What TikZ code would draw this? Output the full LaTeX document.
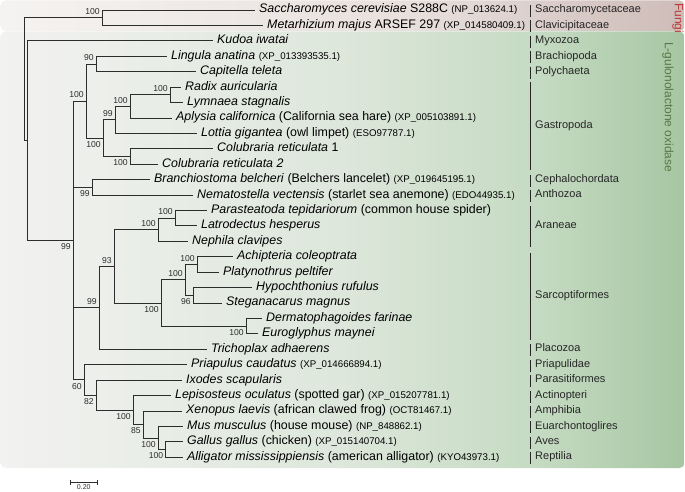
\documentclass[tikz,border=0pt]{standalone}
\usepackage{fontspec}
\setmainfont{Liberation Sans}
\usepackage{tikz}
\usetikzlibrary{calc}
\usepackage{xcolor}
\definecolor{treeline}{RGB}{45,45,45}
\definecolor{fungiL}{RGB}{245,243,241}
\definecolor{fungiM}{RGB}{232,224,221}
\definecolor{fungiR}{RGB}{206,188,184}
\definecolor{guloL}{RGB}{242,242,241}
\definecolor{guloM}{RGB}{221,231,219}
\definecolor{guloN}{RGB}{198,219,195}
\definecolor{guloR}{RGB}{166,198,162}
\definecolor{fungitext}{RGB}{186,56,56}
\definecolor{gulotext}{RGB}{88,120,72}
\pgfdeclarehorizontalshading{fungishade}{100bp}{color(0bp)=(fungiL); color(25bp)=(fungiL); color(55bp)=(fungiM); color(75bp)=(fungiR); color(100bp)=(fungiR)}
\pgfdeclarehorizontalshading{guloshade}{100bp}{color(0bp)=(guloL); color(25bp)=(guloL); color(50bp)=(guloM); color(64bp)=(guloN); color(75bp)=(guloR); color(100bp)=(guloR)}
\newcommand{\accno}[1]{{\fontsize{9.7}{11}\selectfont(#1)}}

\begin{document}
\begin{tikzpicture}[x=1pt,y=-1pt,
  branch/.style={draw=treeline,line width=0.8pt},
  taxon/.style={anchor=west,inner xsep=4pt,inner ysep=0pt,text height=9pt,text depth=3pt,font=\fontsize{12.4}{14}\selectfont},
  boot/.style={inner xsep=2.2pt,inner ysep=3pt,font=\fontsize{8.6}{10}\selectfont,text=treeline},
  bootup/.style={boot,anchor=south east},
  bootdn/.style={boot,anchor=north east},
  grp/.style={anchor=west,inner xsep=5pt,inner ysep=0pt,text height=8pt,text depth=2.5pt,font=\fontsize{11}{13}\selectfont,text=black!85},
  grpbar/.style={draw=black!85,line width=0.8pt},
  sidelbl/.style={rotate=-90,anchor=west,inner sep=0pt,font=\fontsize{12}{14}\selectfont}]
\useasboundingbox (0,0) rectangle (685,492);
% background boxes
\shade[shading=fungishade,rounded corners=5pt] (0.5,0.5) rectangle (684.5,31);
\shade[shading=guloshade,rounded corners=5pt] (0.5,31.5) rectangle (684.5,468);
\node[sidelbl,text=fungitext] (fungilbl) at (678,3) {Fungi};
\node[sidelbl,text=gulotext] (gulolbl) at (668,42) {L-gulonolactone oxidase};

% taxa
\node[taxon] (sacch) at (255,10) {\textit{Saccharomyces cerevisiae} S288C \accno{NP\_013624.1}};
\node[taxon] (metar) at (263,25.42) {\textit{Metarhizium majus} ARSEF 297 \accno{XP\_014580409.1}};
\node[taxon] (kudoa) at (213,40.84) {\textit{Kudoa iwatai}};
\node[taxon] (lingula) at (167,56.26) {\textit{Lingula anatina} \accno{XP\_013393535.1}};
\node[taxon] (capitella) at (196,71.68) {\textit{Capitella teleta}};
\node[taxon] (radix) at (181,87.1) {\textit{Radix auricularia}};
\node[taxon] (lymnaea) at (183,102.52) {\textit{Lymnaea stagnalis}};
\node[taxon] (aplysia) at (172,117.94) {\textit{Aplysia californica} (California sea hare) \accno{XP\_005103891.1}};
\node[taxon] (lottia) at (197,133.36) {\textit{Lottia gigantea} (owl limpet) \accno{ESO97787.1}};
\node[taxon] (colubA) at (213,148.78) {\textit{Colubraria reticulata} 1};
\node[taxon] (colubB) at (158,164.2) {\textit{Colubraria reticulata 2}};
\node[taxon] (branchio) at (150,179.62) {\textit{Branchiostoma belcheri} (Belchers lancelet) \accno{XP\_019645195.1}};
\node[taxon] (nemato) at (193,195.04) {\textit{Nematostella vectensis} (starlet sea anemone) \accno{EDO44935.1}};
\node[taxon] (paras) at (207,210.46) {\textit{Parasteatoda tepidariorum} (common house spider)};
\node[taxon] (latro) at (197,225.88) {\textit{Latrodectus hesperus}};
\node[taxon] (nephila) at (188,241.3) {\textit{Nephila clavipes}};
\node[taxon] (achip) at (233,256.72) {\textit{Achipteria coleoptrata}};
\node[taxon] (platy) at (219,272.14) {\textit{Platynothrus peltifer}};
\node[taxon] (hypo) at (252,287.56) {\textit{Hypochthonius rufulus}};
\node[taxon] (stega) at (222,302.98) {\textit{Steganacarus magnus}};
\node[taxon] (derma) at (262,318.4) {\textit{Dermatophagoides farinae}};
\node[taxon] (eurog) at (258,333.82) {\textit{Euroglyphus maynei}};
\node[taxon] (tricho) at (207,349.24) {\textit{Trichoplax adhaerens}};
\node[taxon] (priap) at (187,364.66) {\textit{Priapulus caudatus} \accno{XP\_014666894.1}};
\node[taxon] (ixodes) at (182,380.08) {\textit{Ixodes scapularis}};
\node[taxon] (lepis) at (171,395.5) {\textit{Lepisosteus oculatus} (spotted gar) \accno{XP\_015207781.1}};
\node[taxon] (xenop) at (182,410.92) {\textit{Xenopus laevis} (african clawed frog) \accno{OCT81467.1}};
\node[taxon] (mus) at (183,426.34) {\textit{Mus musculus} (house mouse) \accno{NP\_848862.1}};
\node[taxon] (gallus) at (183,441.76) {\textit{Gallus gallus} (chicken) \accno{XP\_015140704.1}};
\node[taxon] (allig) at (183,457.18) {\textit{Alligator mississippiensis} (american alligator) \accno{KYO43973.1}};

% inner nodes
\coordinate (nroot) at (24,79.18);
\coordinate (nfungi) at (102,17.71);
\coordinate (nanimal) at (27,140.65);
\coordinate (nmain) at (73,240.46);
\coordinate (nlopho) at (86,101.08);
\coordinate (nlingcap) at (96,63.97);
\coordinate (ngastro) at (103,138.18);
\coordinate (nlottia) at (115,119.87);
\coordinate (naplysia) at (130,106.38);
\coordinate (nlymn) at (170,94.81);
\coordinate (ncolub) at (130,156.49);
\coordinate (nbranch) at (92,187.33);
\coordinate (necdy) at (99,307.8);
\coordinate (narach) at (114,266.36);
\coordinate (naran) at (158,229.74);
\coordinate (nparlat) at (175,218.17);
\coordinate (nsarco) at (161,302.98);
\coordinate (noribat) at (185,279.85);
\coordinate (nachpla) at (197,264.43);
\coordinate (nhyposte) at (193,295.27);
\coordinate (nastig) at (246,326.11);
\coordinate (nrest) at (84,379.84);
\coordinate (nixo) at (96,395.02);
\coordinate (nverts) at (133,409.96);
\coordinate (ntetra) at (143,424.41);
\coordinate (namnio) at (158,437.9);
\coordinate (narch) at (165.5,449.47);

% branches
\draw[branch] (nroot) |- (nfungi);
\draw[branch] (nroot) |- (nanimal);
\draw[branch] (nfungi) |- (sacch);
\draw[branch] (nfungi) |- (metar);
\draw[branch] (nanimal) |- (kudoa);
\draw[branch] (nanimal) |- (nmain);
\draw[branch] (nmain) |- (nlopho);
\draw[branch] (nmain) |- (nbranch);
\draw[branch] (nmain) |- (necdy);
\draw[branch] (nmain) |- (nrest);
\draw[branch] (nlopho) |- (nlingcap);
\draw[branch] (nlopho) |- (ngastro);
\draw[branch] (nlingcap) |- (lingula);
\draw[branch] (nlingcap) |- (capitella);
\draw[branch] (ngastro) |- (nlottia);
\draw[branch] (ngastro) |- (ncolub);
\draw[branch] (nlottia) |- (naplysia);
\draw[branch] (nlottia) |- (lottia);
\draw[branch] (naplysia) |- (nlymn);
\draw[branch] (naplysia) |- (aplysia);
\draw[branch] (nlymn) |- (radix);
\draw[branch] (nlymn) |- (lymnaea);
\draw[branch] (ncolub) |- (colubA);
\draw[branch] (ncolub) |- (colubB);
\draw[branch] (nbranch) |- (branchio);
\draw[branch] (nbranch) |- (nemato);
\draw[branch] (necdy) |- (narach);
\draw[branch] (necdy) |- (tricho);
\draw[branch] (narach) |- (naran);
\draw[branch] (narach) |- (nsarco);
\draw[branch] (naran) |- (nparlat);
\draw[branch] (naran) |- (nephila);
\draw[branch] (nparlat) |- (paras);
\draw[branch] (nparlat) |- (latro);
\draw[branch] (nsarco) |- (noribat);
\draw[branch] (nsarco) |- (nastig);
\draw[branch] (noribat) |- (nachpla);
\draw[branch] (noribat) |- (nhyposte);
\draw[branch] (nachpla) |- (achip);
\draw[branch] (nachpla) |- (platy);
\draw[branch] (nhyposte) |- (hypo);
\draw[branch] (nhyposte) |- (stega);
\draw[branch] (nastig) |- (derma);
\draw[branch] (nastig) |- (eurog);
\draw[branch] (nrest) |- (priap);
\draw[branch] (nrest) |- (nixo);
\draw[branch] (nixo) |- (ixodes);
\draw[branch] (nixo) |- (nverts);
\draw[branch] (nverts) |- (lepis);
\draw[branch] (nverts) |- (ntetra);
\draw[branch] (ntetra) |- (xenop);
\draw[branch] (ntetra) |- (namnio);
\draw[branch] (namnio) |- (mus);
\draw[branch] (namnio) |- (narch);
\draw[branch] (narch) |- (gallus);
\draw[branch] (narch) |- (allig);

% bootstrap values
\node[bootup] (bfungi) at (nfungi) {100};
\node[bootdn] (bmain) at (nmain) {99};
\node[bootup] (blopho) at (nlopho) {100};
\node[bootup] (blingcap) at (nlingcap) {90};
\node[bootdn] (bgastro) at (ngastro) {100};
\node[bootup] (blottia) at (nlottia) {99};
\node[bootup] (baplysia) at (naplysia) {100};
\node[bootup] (blymn) at (nlymn) {100};
\node[bootdn] (bcolub) at (ncolub) {100};
\node[bootdn] (bbranch) at (nbranch) {99};
\node[bootup] (becdy) at (necdy) {99};
\node[bootup] (barach) at (narach) {93};
\node[bootup] (baran) at (naran) {100};
\node[bootup] (bparlat) at (nparlat) {100};
\node[bootdn] (bsarco) at (nsarco) {100};
\node[bootup] (boribat) at (noribat) {100};
\node[bootup] (bachpla) at (nachpla) {100};
\node[bootdn] (bhyposte) at (nhyposte) {96};
\node[bootdn] (bastig) at (nastig) {100};
\node[bootdn] (brest) at (nrest) {60};
\node[bootdn] (bixo) at (nixo) {82};
\node[bootdn] (bverts) at (nverts) {100};
\node[bootdn] (btetra) at (ntetra) {85};
\node[bootdn] (bamnio) at (namnio) {100};
\node[bootdn] (barch) at (narch) {100};

% taxonomic groups
\node[grp] (gsacch) at (530,10) {Saccharomycetaceae};
\node[grp] (gclavi) at (530,25.42) {Clavicipitaceae};
\node[grp] (gmyxo) at (530,40.84) {Myxozoa};
\node[grp] (gbrachio) at (530,56.26) {Brachiopoda};
\node[grp] (gpoly) at (530,71.68) {Polychaeta};
\node[grp] (ggastro) at (530,125.65) {Gastropoda};
\node[grp] (gcephalo) at (530,179.62) {Cephalochordata};
\node[grp] (gantho) at (530,195.04) {Anthozoa};
\node[grp] (garan) at (530,225.88) {Araneae};
\node[grp] (gsarco) at (530,295.27) {Sarcoptiformes};
\node[grp] (gplaco) at (530,349.24) {Placozoa};
\node[grp] (gpriap) at (530,364.66) {Priapulidae};
\node[grp] (gparasit) at (530,380.08) {Parasitiformes};
\node[grp] (gactino) at (530,395.5) {Actinopteri};
\node[grp] (gamphi) at (530,410.92) {Amphibia};
\node[grp] (geuarch) at (530,426.34) {Euarchontoglires};
\node[grp] (gaves) at (530,441.76) {Aves};
\node[grp] (grept) at (530,457.18) {Reptilia};
\draw[grpbar] (530,5) -- (530,17);
\draw[grpbar] (530,20.42) -- (530,32.42);
\draw[grpbar] (530,35.84) -- (530,47.84);
\draw[grpbar] (530,51.26) -- (530,63.26);
\draw[grpbar] (530,66.68) -- (530,78.68);
\draw[grpbar] (530,82) -- (530,169.5);
\draw[grpbar] (530,174.62) -- (530,186.62);
\draw[grpbar] (530,190.04) -- (530,202.04);
\draw[grpbar] (530,205.5) -- (530,247.3);
\draw[grpbar] (530,252.7) -- (530,339.8);
\draw[grpbar] (530,344.24) -- (530,356.24);
\draw[grpbar] (530,359.66) -- (530,371.66);
\draw[grpbar] (530,375.08) -- (530,387.08);
\draw[grpbar] (530,390.5) -- (530,402.5);
\draw[grpbar] (530,405.92) -- (530,417.92);
\draw[grpbar] (530,421.34) -- (530,433.34);
\draw[grpbar] (530,436.76) -- (530,448.76);
\draw[grpbar] (530,452.18) -- (530,464.18);

% scale bar
\coordinate (sbl) at (70,482.5);
\coordinate (sbr) at (97.5,482.5);
\draw[branch,line width=0.6pt] (sbl) -- (sbr);
\draw[branch,line width=0.6pt] ($(sbl)+(0,-2.5)$) -- ($(sbl)+(0,2.5)$);
\draw[branch,line width=0.6pt] ($(sbr)+(0,-2.5)$) -- ($(sbr)+(0,2.5)$);
\node[anchor=north,inner sep=0.5pt,font=\fontsize{7}{8}\selectfont,text=treeline] (sblbl) at ($(sbl)!.5!(sbr)+(0,1.6)$) {0.20};
\end{tikzpicture}
\end{document}
